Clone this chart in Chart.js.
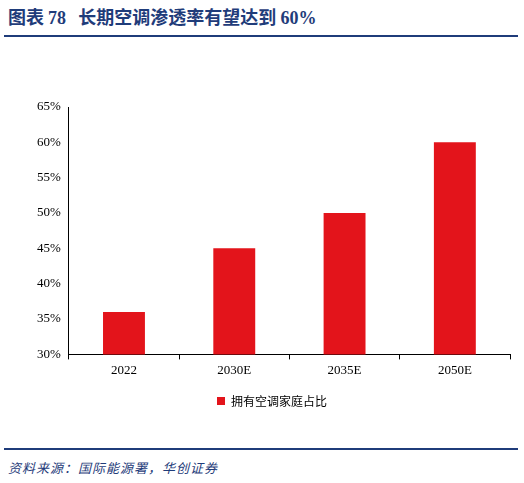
<!DOCTYPE html>
<html><head><meta charset="utf-8">
<script src="https://cdn.jsdelivr.net/npm/chart.js@4"></script>
<style>
body{margin:0;width:524px;height:483px;position:relative;background:#fff;font-family:"Noto Sans CJK SC";}
#title{position:absolute;left:8px;top:3px;font-size:18px;font-weight:bold;color:#1f3c7a;}
#title span{font-family:"Liberation Serif";}
.line{position:absolute;left:4px;width:514px;height:2px;background:#1f3c7a;}
#foot{position:absolute;left:8px;top:458px;font-size:13px;font-style:italic;color:#1f3c7a;letter-spacing:1px;}
#wrap{position:absolute;left:0;top:0;width:524px;height:483px;}
</style></head><body>
<div id="title">图表 <span>78</span>&nbsp;&nbsp; 长期空调渗透率有望达到 <span>60%</span></div>
<div class="line" style="top:35px"></div>
<div class="line" style="top:448px;height:1.5px"></div>
<div id="foot">资料来源：国际能源署，华创证券</div>
<div id="wrap"><canvas id="c"></canvas></div>
<script>
const categories = ["2022", "2030E", "2035E", "2050E"];
const shareValues = [36, 45, 50, 60];
const seriesName = "拥有空调家庭占比";

new Chart(document.getElementById("c"), {
  type: "bar",
  data: {
    labels: categories,
    datasets: [{ label: seriesName, data: shareValues, backgroundColor: "#e3141b",
      categoryPercentage: 1, barPercentage: 0.38 }]
  },
  options: {
    responsive: true, maintainAspectRatio: false, animation: false,
    layout: { padding: { top: 107, left: 34, right: 14, bottom: 66 } },
    plugins: {
      tooltip: { enabled: false },
      legend: { position: "bottom",
        labels: { boxWidth: 8, boxHeight: 8, color: "#000", padding: 14,
          font: { family: "Noto Sans CJK SC", size: 12 } } }
    },
    scales: {
      y: { min: 30, max: 65,
        ticks: { stepSize: 5, color: "#000", callback: v => v + "%",
          font: { family: "Liberation Serif", size: 13 } },
        grid: { display: false, drawTicks: true, tickLength: 5 },
        border: { color: "#000" } },
      x: { ticks: { color: "#000", font: { family: "Liberation Serif", size: 13 } },
        grid: { offset: true, drawOnChartArea: false, tickLength: 5, color: "#000" },
        border: { color: "#000" } }
    }
  }
});
</script></body></html>
